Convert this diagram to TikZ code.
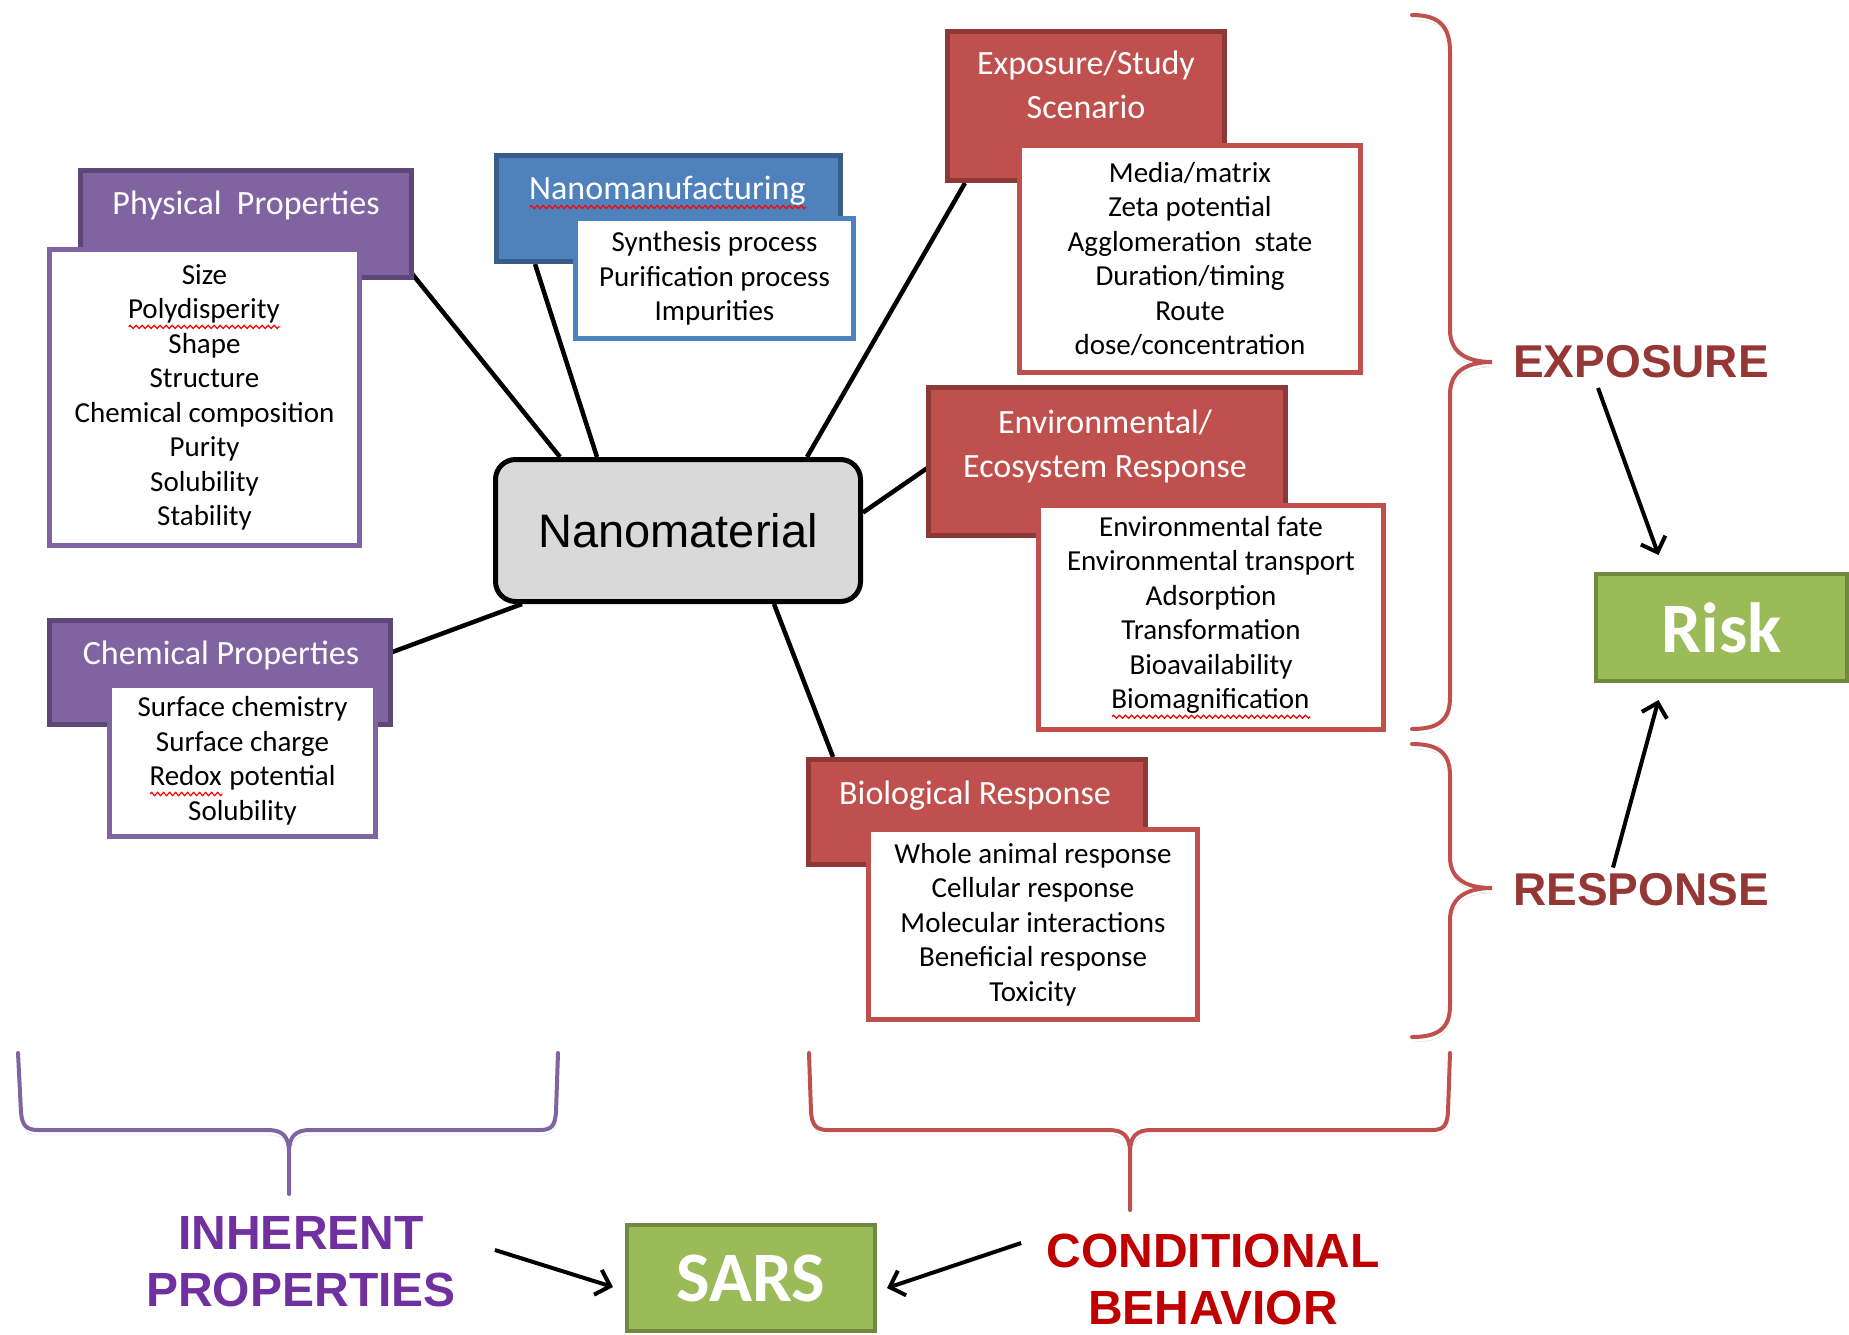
\documentclass[tikz,border=0pt]{standalone}
\usepackage{fontspec}
\setmainfont{Carlito}
\newfontfamily\arialfont{Liberation Sans}
\usetikzlibrary{calc,arrows.meta,decorations.pathmorphing}
\definecolor{purplefill}{HTML}{8064A2}
\definecolor{purpleline}{HTML}{5C4776}
\definecolor{bluefill}{HTML}{4F81BD}
\definecolor{blueline}{HTML}{385D8A}
\definecolor{redfill}{HTML}{C0504D}
\definecolor{redline}{HTML}{8C3836}
\definecolor{greenfill}{HTML}{9BBB59}
\definecolor{greenline}{HTML}{71893F}
\definecolor{nanogray}{HTML}{D9D9D9}
\definecolor{inhcolor}{HTML}{7030A0}
\definecolor{condcolor}{HTML}{C00000}
\definecolor{labcolor}{HTML}{953735}
\pgfdeclarelayer{background}
\pgfsetlayers{background,main}
\newsavebox\squigbox
\newcommand\squig[1]{\sbox\squigbox{#1}\leavevmode\rlap{\usebox\squigbox}%
  \raisebox{-8pt}{\tikz[baseline=0pt]\draw[red, line width=1.2pt, decorate,
    decoration={zigzag, segment length=6pt, amplitude=1.6pt}] (0pt,0pt) -- (\wd\squigbox,0pt);}}

\begin{document}
\begin{tikzpicture}[x=1pt,y=-1pt,
    box/.style={rectangle, line width=5pt, inner sep=0pt},
    purplehead/.style={box, draw=purpleline, fill=purplefill},
    purplelist/.style={box, draw=purplefill, fill=white},
    bluehead/.style={box, draw=blueline, fill=bluefill},
    bluelist/.style={box, draw=bluefill, fill=white},
    redhead/.style={box, draw=redline, fill=redfill},
    redlist/.style={box, draw=redfill, fill=white},
    title/.style={text=white, font=\fontsize{34}{44}\selectfont, align=center, inner sep=0pt},
    items/.style={font=\fontsize{29}{34.5}\selectfont, align=center},
    greenbox/.style={box, line width=4pt, draw=greenline, fill=greenfill, text=white},
    sidelabel/.style={font=\arialfont\bfseries\fontsize{46}{46}\selectfont, text=labcolor, inner sep=0pt},
    bigword/.style={font=\arialfont\bfseries\fontsize{48}{57}\selectfont, align=center, inner sep=0pt},
    link/.style={line width=4.5pt, black},
    pointer/.style={line width=4pt, -{Straight Barb[length=13pt,width=26pt]}},
    bshadow/.style={preaction={draw=black!15, transform canvas={xshift=1pt, yshift=-5pt}}},
    bracered/.style={bshadow, line width=4pt, draw=redfill, line cap=round},
    bracepurple/.style={bshadow, line width=4pt, draw=purplefill, line cap=round}]
  \useasboundingbox (0,0) rectangle (1849,1334);

  % inherent side
  \node[purplehead, minimum width=331pt, minimum height=107pt] (physhead) at (246,224) {};
  \node[title, anchor=base] (phystitle) at (246,214) {Physical\ \ Properties};
  \node[purplelist, items, minimum width=310pt, minimum height=296pt] (physlist) at (204.5,397.5)
    {Size\\\squig{Polydisperity}\\Shape\\Structure\\Chemical composition\\Purity\\Solubility\\Stability};

  \node[bluehead, minimum width=344pt, minimum height=106pt] (nanohead) at (668.5,208.5) {};
  \node[title, anchor=base] (nanotitle) at (668,199) {\squig{Nanomanufacturing}};
  \node[bluelist, items, minimum width=278pt, minimum height=120pt] (nanolist) at (714.5,278.5)
    {Synthesis process\\Purification process\\Impurities};

  \node[purplehead, minimum width=341pt, minimum height=104pt] (chemhead) at (220,672.5) {};
  \node[title, anchor=base] (chemtitle) at (221,664) {Chemical Properties};
  \node[purplelist, items, minimum width=266pt, minimum height=151pt] (chemlist) at (242.5,761)
    {Surface chemistry\\Surface charge\\\squig{Redox} potential\\Solubility};

  % conditional side
  \node[redhead, minimum width=277pt, minimum height=149pt] (expohead) at (1086,106) {};
  \node[title] (expotitle) at (1086,85) {Exposure/Study\\Scenario};
  \node[redlist, items, minimum width=341pt, minimum height=227pt] (expolist) at (1190,259)
    {Media/matrix\\Zeta potential\\Agglomeration\ \ state\\Duration/timing\\Route\\dose/concentration};

  \node[redhead, minimum width=357pt, minimum height=148pt] (envhead) at (1107,461.5) {};
  \node[title] (envtitle) at (1105,446) {Environmental/\\Ecosystem Response};
  \node[redlist, items, minimum width=345pt, minimum height=224pt] (envlist) at (1211,617.5)
    {Environmental fate\\Environmental transport\\Adsorption\\Transformation\\Bioavailability\\\squig{Biomagnification}};

  \node[redhead, minimum width=337pt, minimum height=105pt] (biohead) at (977,812) {};
  \node[title, anchor=base] (biotitle) at (975,804) {Biological Response};
  \node[redlist, items, minimum width=329pt, minimum height=190pt] (biolist) at (1033,924.5)
    {Whole animal response\\Cellular response\\Molecular interactions\\Beneficial response\\Toxicity};

  \node[draw, line width=5pt, fill=nanogray, rounded corners=20pt, minimum width=365pt, minimum height=142pt,
    font=\arialfont\fontsize{47}{47}\selectfont] (nano) at (678,530.5) {Nanomaterial};

  \begin{pgfonlayer}{background}
    \draw[link] ($(physhead.south east)+(-9,-15)$) -- ($(nano.north west)+(67,0)$);
    \draw[link] ($(nanohead.south west)+(41,0)$) -- ($(nano.north west)+(104,0)$);
    \draw[link] ($(expohead.south west)+(20,0)$) -- ($(nano.north east)+(-56,0)$);
    \draw[link] ($(envhead.west)+(5,4)$) -- ($(nano.east)+(0,-18)$);
    \draw[link] ($(chemhead.east)+(-2,-20)$) -- ($(nano.south west)+(29,0)$);
    \draw[link] ($(biohead.north west)+(27,0)$) -- ($(nano.south east)+(-89,0)$);
  \end{pgfonlayer}

  % braces
  \draw[bracered] (1412,15) .. controls (1440,15) and (1450,27) .. (1450,52) -- (1450,330)
    .. controls (1450,352) and (1466,362) .. (1492,362) .. controls (1466,362) and (1450,372) .. (1450,394)
    -- (1450,697) .. controls (1450,719) and (1440,729) .. (1412,729);
  \draw[bracered] (1412,744) .. controls (1440,744) and (1450,754) .. (1450,776) -- (1450,857)
    .. controls (1450,879) and (1466,888) .. (1492,888) .. controls (1466,888) and (1450,898) .. (1450,920)
    -- (1450,1005) .. controls (1450,1027) and (1440,1037) .. (1412,1037);
  \draw[bracepurple] (18,1053) -- (21,1112) .. controls (22,1125) and (26,1130) .. (38,1130) -- (268,1130)
    .. controls (282,1130) and (289,1136) .. (289,1152) -- (289,1194)
    (289,1152) .. controls (289,1136) and (296,1130) .. (310,1130) -- (540,1130)
    .. controls (552,1130) and (555,1125) .. (556,1112) -- (558,1053);
  \draw[bracered] (809,1053) -- (811,1112) .. controls (812,1125) and (816,1130) .. (828,1130) -- (1109,1130)
    .. controls (1123,1130) and (1130,1136) .. (1130,1152) -- (1130,1210)
    (1130,1152) .. controls (1130,1136) and (1137,1130) .. (1151,1130) -- (1432,1130)
    .. controls (1444,1130) and (1447,1125) .. (1448,1112) -- (1450,1053);

  % outcome
  \node[sidelabel] (expolab) at (1641,361.5) {EXPOSURE};
  \node[sidelabel] (resplab) at (1641,890) {RESPONSE};
  \node[greenbox, minimum width=251pt, minimum height=107pt, font=\bfseries\fontsize{71}{71}\selectfont] (risk) at (1721.5,627.5) {Risk};
  \node[bigword, text=inhcolor] (inhlab) at (301,1262) {INHERENT\\PROPERTIES};
  \node[bigword, text=condcolor] (condlab) at (1213,1279) {CONDITIONAL\\BEHAVIOR};
  \node[greenbox, minimum width=248pt, minimum height=106pt, font=\bfseries\fontsize{71}{71}\selectfont] (sars) at (751,1278) {SARS};

  \draw[pointer] ($(expolab.south)+(-43,10)$) -- ($(risk.north)+(-63,-17)$);
  \draw[pointer] ($(resplab.north)+(-28,-6)$) -- ($(risk.south)+(-63,17)$);
  \draw[pointer] ($(inhlab.east)+(39,-12)$) -- ($(sars.west)+(-12,9)$);
  \draw[pointer] ($(condlab.west)+(-25,-36)$) -- ($(sars.east)+(10,10)$);
\end{tikzpicture}
\end{document}
